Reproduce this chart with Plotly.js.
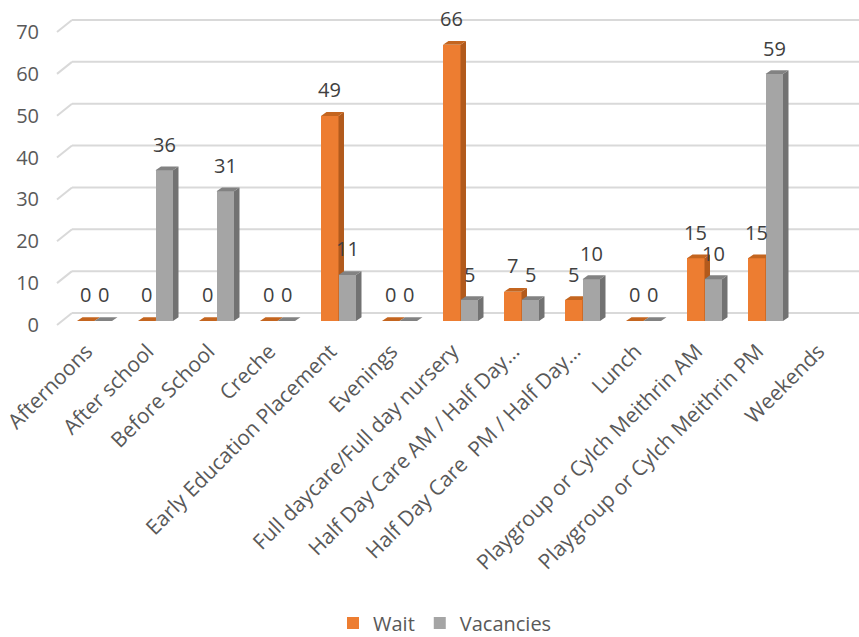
<!DOCTYPE html>
<html>
<head>
<meta charset="utf-8">
<script src="https://cdn.plot.ly/plotly-3.0.1.min.js"></script>
<style>html,body{margin:0;padding:0;background:#fff;}</style>
</head>
<body>
<div id="chart" style="width:859px;height:637px;"></div>
<script>
const categories = ["Afternoons", "After school", "Before School", "Creche", "Early Education Placement", "Evenings", "Full daycare/Full day nursery", "Half Day Care AM / Half Day\u2026", "Half Day Care\u00a0 PM / Half Day\u2026", "Lunch", "Playgroup or Cylch Meithrin AM", "Playgroup or Cylch Meithrin PM", "Weekends"];
const wait = [0, 0, 0, 0, 49, 0, 66, 7, 5, 0, 15, 15, null];
const vacancies = [0, 36, 31, 0, 11, 0, 5, 5, 10, 0, 10, 59, null];
const yTicks = [0, 10, 20, 30, 40, 50, 60, 70];

// geometry / styling (not data)
const W = 0.287;      // bar width in category units
const DX = 0.09;      // 3D depth, x units
const DY = 0.91;      // 3D depth, y units
const FONT = "Open Sans, Liberation Sans, sans-serif";
const idx = categories.map((c, i) => i);

function faces(vals, off) {
  const side = {x: [], y: []}, top = {x: [], y: []};
  vals.forEach((v, i) => {
    if (v === null) return;
    const xl = i + off, xr = xl + W;
    side.x.push(xr, xr + DX, xr + DX, xr, xr, null);
    side.y.push(0, DY, v + DY, v, 0, null);
    top.x.push(xl, xl + DX, xr + DX, xr, xl, null);
    top.y.push(v, v + DY, v + DY, v, v, null);
  });
  return {side, top};
}

const fw = faces(wait, -W);
const fv = faces(vacancies, 0);

function poly(f, color, xa, ya) {
  return {type: 'scatter', mode: 'lines', x: f.x, y: f.y, fill: 'toself', fillcolor: color,
          line: {width: 0, color: color}, hoverinfo: 'skip', showlegend: false, xaxis: xa, yaxis: ya};
}

const data = [
  {type: 'bar', name: 'Wait', x: idx, y: wait, width: W, offset: -W, marker: {color: '#ED7D31', line: {width: 0}}, xaxis: 'x', yaxis: 'y'},
  poly(fw.side, '#B25A1C', 'x', 'y'),
  poly(fw.top, '#C4651F', 'x', 'y'),
  {type: 'bar', name: 'Vacancies', x: idx, y: vacancies, width: W, offset: 0, marker: {color: '#A5A5A5', line: {width: 0}}, xaxis: 'x2', yaxis: 'y2'},
  poly(fv.side, '#727272', 'x2', 'y2'),
  poly(fv.top, '#828282', 'x2', 'y2'),
  // invisible carrier so the front-plane value axis (y3) is drawn
  {type: 'scatter', mode: 'markers', x: idx, y: vacancies, marker: {opacity: 0}, hoverinfo: 'skip', showlegend: false, xaxis: 'x', yaxis: 'y3'}
];

// back-wall gridlines with a short receding edge on the left
const L = 64, PW = 793, B0 = 325, PH = 297, YMIN = -0.957, YMAX = 70;
const px2paperX = p => (p - L) / PW;
const val2paperY = v => (v - YMIN) / (YMAX - YMIN);
const shapes = [];
yTicks.forEach(t => {
  const back = val2paperY(t + 1.91), front = val2paperY(t - 0.957);
  shapes.push({type: 'line', xref: 'paper', yref: 'paper', x0: px2paperX(72), x1: px2paperX(859), y0: back, y1: back,
               line: {color: '#D9D9D9', width: 2}, layer: 'below'});
  shapes.push({type: 'line', xref: 'paper', yref: 'paper', x0: px2paperX(57), x1: px2paperX(72), y0: front, y1: back,
               line: {color: '#D9D9D9', width: 2}, layer: 'below'});
});

const annotations = [];
function addLabels(vals, off) {
  vals.forEach((v, i) => {
    if (v === null) return;
    annotations.push({x: i + off + W / 2, y: v, xref: 'x', yref: 'y', text: String(v), showarrow: false,
                      yshift: 26, yanchor: 'middle', xanchor: 'center', font: {family: FONT, size: 20, color: '#404040'}});
  });
}
addLabels(wait, -W);
addLabels(vacancies, 0);

const xCommon = {range: [-0.5, 12.5], showgrid: false, zeroline: false, showline: false, ticks: '', automargin: false};
const layout = {
  width: 859, height: 637, autosize: false,
  margin: {l: L, r: 2, t: 28, b: 312, pad: 0, autoexpand: false},
  paper_bgcolor: '#ffffff', plot_bgcolor: 'rgba(0,0,0,0)',
  showlegend: true,
  legend: {orientation: 'h', xref: 'container', yref: 'container', x: 445 / 859, xanchor: 'center', y: 14 / 637, yanchor: 'middle',
           font: {family: FONT, size: 20, color: '#595959'}, traceorder: 'normal', bgcolor: 'rgba(0,0,0,0)'},
  xaxis: Object.assign({}, xCommon, {tickmode: 'array', tickvals: idx, ticktext: categories, tickangle: -45,
           ticklabelshift: -8, ticklabelstandoff: 9,
           tickfont: {family: FONT, size: 21, color: '#595959'}, anchor: 'y'}),
  xaxis2: Object.assign({}, xCommon, {overlaying: 'x', showticklabels: false, anchor: 'y2'}),
  yaxis: {range: [YMIN, YMAX], showgrid: false, zeroline: false, showline: false, showticklabels: false, ticks: '', anchor: 'x'},
  yaxis2: {range: [YMIN, YMAX], overlaying: 'y', showgrid: false, zeroline: false, showline: false, showticklabels: false, ticks: '', anchor: 'x2'},
  yaxis3: {domain: [0, 1 - 3.99 / PH], range: [0, 70], anchor: 'x', tickmode: 'array', tickvals: yTicks,
           showgrid: false, zeroline: false, showline: false, ticks: '', ticklabelstandoff: 24,
           tickfont: {family: FONT, size: 20, color: '#595959'}},
  shapes: shapes,
  annotations: annotations,
  bargap: 0, barmode: 'overlay'
};

Plotly.newPlot('chart', data, layout, {displayModeBar: false, staticPlot: true});
</script>
</body>
</html>
